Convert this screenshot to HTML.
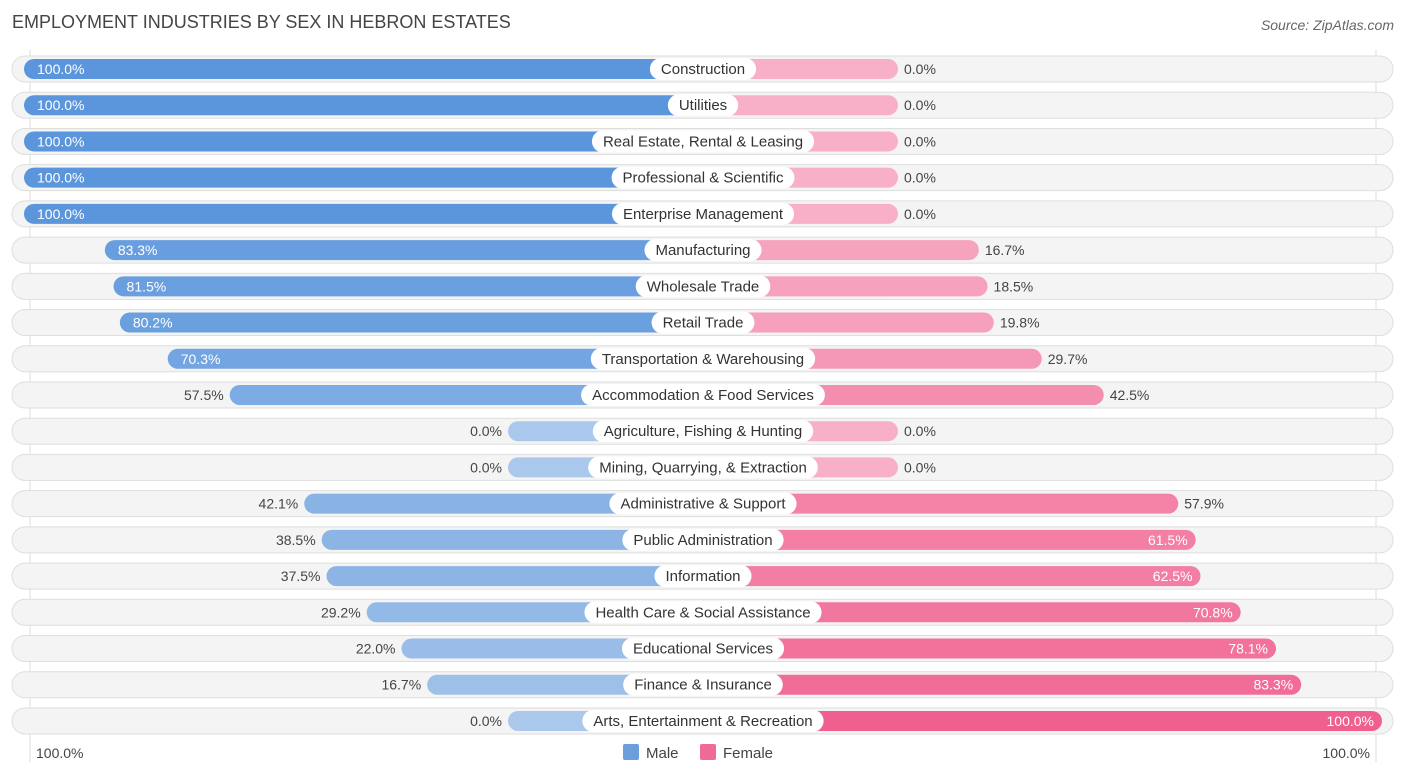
<!DOCTYPE html>
<html><head><meta charset="utf-8">
<style>
body{margin:0;background:#fff;font-family:"Liberation Sans",sans-serif;}
svg text{font-family:"Liberation Sans",sans-serif;}
</style></head>
<body>
<svg id="chart" width="1406" height="776" xmlns="http://www.w3.org/2000/svg">
<text x="12" y="28" font-size="18" fill="#444">EMPLOYMENT INDUSTRIES BY SEX IN HEBRON ESTATES</text>
<text x="1394" y="30" font-size="14" fill="#666" text-anchor="end" font-style="italic">Source: ZipAtlas.com</text>
<line x1="30" y1="50" x2="30" y2="762" stroke="#ddd"/>
<line x1="1376" y1="50" x2="1376" y2="762" stroke="#ddd"/>
<g id="rows"></g>
<text x="36" y="758" font-size="14" fill="#444">100.0%</text>
<text x="1370" y="758" font-size="14" fill="#444" text-anchor="end">100.0%</text>
<rect x="623" y="744" width="16" height="16" rx="2" fill="#6a9fdc"/>
<text x="646" y="758" font-size="15" fill="#444">Male</text>
<rect x="700" y="744" width="16" height="16" rx="2" fill="#f06a96"/>
<text x="723" y="758" font-size="15" fill="#444">Female</text>
</svg>
<script>
const categories=["Construction","Utilities","Real Estate, Rental & Leasing","Professional & Scientific","Enterprise Management","Manufacturing","Wholesale Trade","Retail Trade","Transportation & Warehousing","Accommodation & Food Services","Agriculture, Fishing & Hunting","Mining, Quarrying, & Extraction","Administrative & Support","Public Administration","Information","Health Care & Social Assistance","Educational Services","Finance & Insurance","Arts, Entertainment & Recreation"];
const maleValues=[100,100,100,100,100,83.3,81.5,80.2,70.3,57.5,0,0,42.1,38.5,37.5,29.2,22.0,16.7,0];
const femaleValues=[0,0,0,0,0,16.7,18.5,19.8,29.7,42.5,0,0,57.9,61.5,62.5,70.8,78.1,83.3,100];
const NS="http://www.w3.org/2000/svg";
const cx=703, stub=195, span=484, y0=69, step=36.22;
function xw(v){return stub+v/100*span;}
function rowY(i){return y0+i*step;}
function mix(a,b,t){return "rgb("+a.map((c,k)=>Math.round(c+(b[k]-c)*t)).join(",")+")";}
function mk(tag,attrs){const e=document.createElementNS(NS,tag);for(const k in attrs)e.setAttribute(k,attrs[k]);return e;}
const g=document.getElementById("rows");
categories.forEach((c,i)=>{
  const y=rowY(i);
  const bg=mk("rect",{x:12,y:y-13,width:1381,height:26,rx:13,fill:"#f4f4f4",stroke:"#dedede"});
  
  
  g.appendChild(bg);
  const m=maleValues[i], f=femaleValues[i];
  const mw=xw(m), fw=xw(f);
  const mb=mk("rect",{x:cx-mw,y:y-10,width:mw,height:20,rx:10,fill:mix([170,200,236],[91,150,220],m/100)});
  
  
  g.appendChild(mb);
  const fb=mk("rect",{x:cx,y:y-10,width:fw,height:20,rx:10,fill:mix([247,176,200],[240,96,142],f/100)});
  
  
  g.appendChild(fb);
  const mIn=m>=60;
  const mt=mk("text",{x:mIn?cx-mw+13:cx-mw-6,y:y+5,"font-size":14,fill:mIn?"#fff":"#444","text-anchor":mIn?"start":"end"});
  mt.textContent=m.toFixed(1)+"%";
  
  
  g.appendChild(mt);
  const fIn=f>=60;
  const ft=mk("text",{x:fIn?cx+fw-8:cx+fw+6,y:y+5,"font-size":14,fill:fIn?"#fff":"#444","text-anchor":fIn?"end":"start"});
  ft.textContent=f.toFixed(1)+"%";
  
  
  g.appendChild(ft);
  const lt=mk("text",{x:cx,y:y+5,"font-size":15,fill:"#333","text-anchor":"middle"});
  lt.textContent=c;
  g.appendChild(lt);
  const w=lt.getComputedTextLength()+22;
  const lb=mk("rect",{x:cx-w/2,y:y-11,width:w,height:22,rx:11,fill:"#fff"});
  
  
  g.insertBefore(lb,lt);
  
  
});
</script>
</body></html>
